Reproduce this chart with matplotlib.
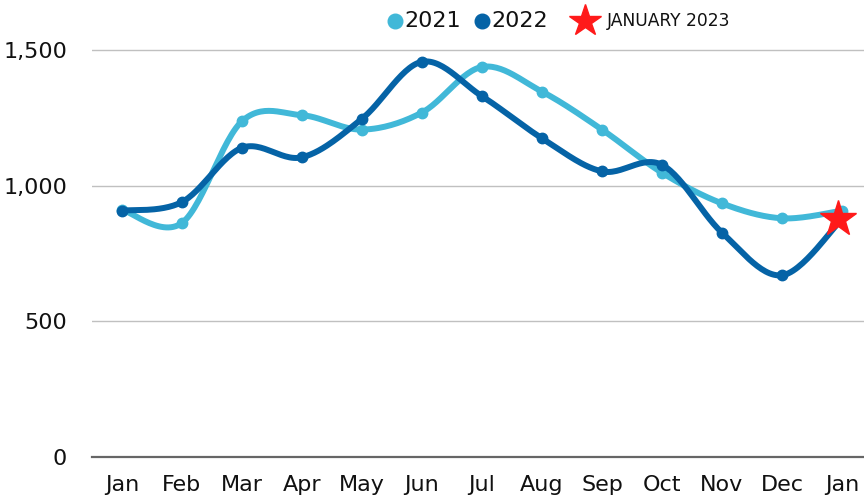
import numpy as np
import matplotlib
matplotlib.use("Agg")
import matplotlib.pyplot as plt
from matplotlib.lines import Line2D

plt.rcParams['font.family'] = ['DejaVu Sans']

months = ["Jan", "Feb", "Mar", "Apr", "May", "Jun", "Jul", "Aug", "Sep", "Oct", "Nov", "Dec", "Jan"]
sales_2021 = [912, 863, 1238, 1260, 1207, 1270, 1438, 1347, 1207, 1048, 935, 880, 908]
sales_2022 = [908, 940, 1140, 1105, 1247, 1457, 1330, 1175, 1053, 1077, 827, 670, 878]
jan_2023 = 878
legend_labels = ["2021", "2022", "JANUARY 2023"]

c21 = "#41b8d8"
c22 = "#0563a6"
cstar = "#ff1a1a"


def smooth(x, y, n=30):
    x = np.asarray(x, float)
    y = np.asarray(y, float)
    xs, ys = [], []
    for i in range(len(x) - 1):
        x0, y0 = (x[i - 1], y[i - 1]) if i > 0 else (x[i], y[i])
        x1, y1 = x[i], y[i]
        x2, y2 = x[i + 1], y[i + 1]
        x3, y3 = (x[i + 2], y[i + 2]) if i + 2 < len(x) else (x2, y2)
        t = np.linspace(0, 1, n)
        k = 1 / 6
        cx1, cy1 = x1 + (x2 - x0) * k, y1 + (y2 - y0) * k
        cx2, cy2 = x2 - (x3 - x1) * k, y2 - (y3 - y1) * k
        bx = (1 - t) ** 3 * x1 + 3 * (1 - t) ** 2 * t * cx1 + 3 * (1 - t) * t ** 2 * cx2 + t ** 3 * x2
        by = (1 - t) ** 3 * y1 + 3 * (1 - t) ** 2 * t * cy1 + 3 * (1 - t) * t ** 2 * cy2 + t ** 3 * y2
        xs.append(bx)
        ys.append(by)
    return np.concatenate(xs), np.concatenate(ys)


W, H = 864, 497
fig = plt.figure(figsize=(W / 100, H / 100), dpi=100)
ax = fig.add_axes([92 / W, 40 / H, 780 / W, 434 / H])

x = np.arange(len(months))
sx, sy = smooth(x, sales_2021)
ax.plot(sx, sy, color=c21, lw=4.3, solid_capstyle='round', zorder=3, clip_on=False)
ax.plot(x, sales_2021, 'o', color=c21, ms=7.5, zorder=3, clip_on=False)

sx, sy = smooth(x, sales_2022)
ax.plot(sx, sy, color=c22, lw=4.3, solid_capstyle='round', zorder=4, clip_on=False)
ax.plot(x[:-1], sales_2022[:-1], 'o', color=c22, ms=7.5, zorder=4, clip_on=False)

ax.plot([x[-1] - 0.07], [jan_2023], marker='*', color=cstar, ms=27, mec=cstar, zorder=5, clip_on=False)

ax.set_xlim(-0.5, len(months) - 0.5)
ax.set_ylim(0, 1600)
ax.set_yticks([0, 500, 1000, 1500])
ax.set_yticklabels(["0", "500", "1,000", "1,500"])
ax.set_xticks(x)
ax.set_xticklabels(months)
ax.tick_params(axis='both', length=0, labelsize=16, colors='#111111')
ax.tick_params(axis='y', pad=18)
ax.tick_params(axis='x', pad=13)
ax.grid(axis='y', color='#c0c0c0', lw=1)
ax.set_axisbelow(True)
for s in ['top', 'right', 'left']:
    ax.spines[s].set_visible(False)
ax.spines['bottom'].set_color('#666666')
ax.spines['bottom'].set_linewidth(1.6)

# legend, laid out by hand
ly = 1 - 21 / H
fig.add_artist(Line2D([395 / W], [ly], ls='none', marker='o', color=c21, ms=10.5, transform=fig.transFigure))
fig.text(404 / W, ly, legend_labels[0], fontsize=16, va='center', ha='left', color='#111111')
fig.add_artist(Line2D([482 / W], [ly], ls='none', marker='o', color=c22, ms=10.5, transform=fig.transFigure))
fig.text(491 / W, ly, legend_labels[1], fontsize=16, va='center', ha='left', color='#111111')
fig.add_artist(Line2D([585 / W], [ly], ls='none', marker='*', color=cstar, mec=cstar, ms=24, transform=fig.transFigure))
fig.text(607 / W, ly, legend_labels[2], fontsize=12.3, va='center', ha='left', color='#111111')

fig.savefig("out.png", dpi=100)
